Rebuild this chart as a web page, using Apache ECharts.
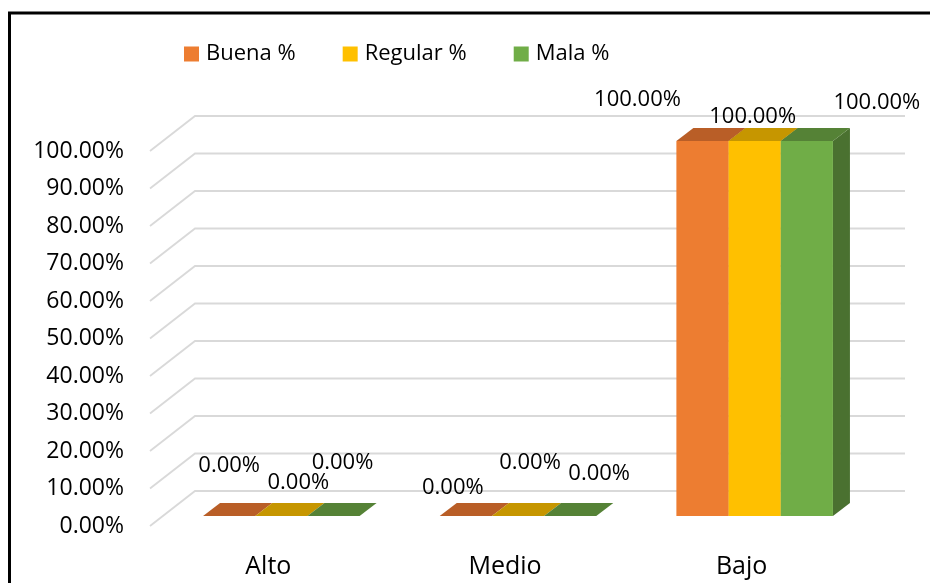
<!DOCTYPE html>
<html>
<head>
<meta charset="utf-8">
<script src="https://cdn.jsdelivr.net/npm/echarts@6/dist/echarts.min.js"></script>
<style>
html,body{margin:0;padding:0;background:#fff;}
#chart{width:930px;height:583px;}
</style>
</head>
<body>
<div id="chart"></div>
<script>
// ---- data ----
const categories = ['Alto', 'Medio', 'Bajo'];
const seriesNames = ['Buena %', 'Regular %', 'Mala %'];
const buena = [0, 0, 100];
const regular = [0, 0, 100];
const mala = [0, 0, 100];
const yTicks = [0, 10, 20, 30, 40, 50, 60, 70, 80, 90, 100];

// ---- styles / layout ----
const FONT = '"Open Sans", "Noto Sans", sans-serif';
const frontColors = ['#ED7D31', '#FFC000', '#70AD47'];
const topColors = ['#B95E27', '#C69600', '#558236'];
const sideColors = ['#B35A24', '#BF9000', '#4A7130'];
const WALL_DEPTH = [45, -35];   // px offset from front plane to back wall
const BAR_SHIFT = [13, -10];    // front face of bars behind the front plane
const BAR_DEPTH = [17, -13];    // depth of each bar prism
const BAR_FRAC = 0.2205;        // bar width as fraction of category band
// label offsets (px) from the top-centre of each bar front face, per series / category
const labelOffsets = [
  [[0, -50], [-13, -28], [-65, -41]],
  [[17, -33], [12, -53], [-2, -24]],
  [[9, -53], [29, -42], [70, -38]]
];

const allValues = [buena, regular, mala];
const chart = echarts.init(document.getElementById('chart'));

function barRenderer(s) {
  return function (params, api) {
    const i = api.value(0);
    const v = api.value(1);
    const top = api.coord([i, v]);
    const base = api.coord([i, 0]);
    const band = api.size([1, 0])[0];
    const w = band * BAR_FRAC;
    const cx = top[0] + (s - 1) * w + BAR_SHIFT[0];
    const x0 = cx - w / 2, x1 = cx + w / 2;
    const yt = top[1] + BAR_SHIFT[1];
    const yb = base[1] + BAR_SHIFT[1];
    const dx = BAR_DEPTH[0], dy = BAR_DEPTH[1];
    const off = labelOffsets[s][i];
    return {
      type: 'group',
      children: [
        {
          type: 'polygon',
          shape: { points: [[x1, yt], [x1 + dx, yt + dy], [x1 + dx, yb + dy], [x1, yb]] },
          style: { fill: sideColors[s] }
        },
        {
          type: 'rect',
          shape: { x: x0, y: yt, width: w, height: Math.max(yb - yt, 0) },
          style: { fill: frontColors[s] }
        },
        {
          type: 'polygon',
          shape: { points: [[x0, yt], [x0 + dx, yt + dy], [x1 + dx, yt + dy], [x1, yt]] },
          style: { fill: topColors[s] }
        },
        {
          type: 'text',
          z2: 100,
          style: {
            text: v.toFixed(2) + '%',
            x: cx + off[0],
            y: yt + off[1],
            align: 'center',
            verticalAlign: 'middle',
            font: '22px ' + FONT,
            fill: '#000'
          }
        }
      ]
    };
  };
}

const barSeries = seriesNames.map(function (name, s) {
  return {
    name: name,
    type: 'custom',
    renderItem: barRenderer(s),
    encode: { x: 0, y: 1 },
    itemStyle: { color: frontColors[s] },
    data: allValues[s].map(function (v, i) { return [i, v]; }),
    z: 3 + s,
    silent: true
  };
});

const gridSeries = {
  name: 'grid',
  type: 'custom',
  silent: true,
  z: 1,
  encode: { x: 0, y: 1 },
  renderItem: function (params, api) {
    const t = api.value(1);
    const p = api.coord([0, t]);
    const cs = params.coordSys;
    const x0 = cs.x, w = cs.width;
    return {
      type: 'polyline',
      shape: { points: [[x0, p[1]], [x0 + WALL_DEPTH[0], p[1] + WALL_DEPTH[1]], [x0 + w + WALL_DEPTH[0], p[1] + WALL_DEPTH[1]]] },
      style: { stroke: '#D9D9D9', lineWidth: 1.8, fill: null }
    };
  },
  data: yTicks.map(function (t) { return [0, t]; })
};

chart.setOption({
  animation: false,
  backgroundColor: '#fff',
  graphic: [{
    type: 'rect',
    shape: { x: 9.5, y: 13, width: 1000, height: 700 },
    style: { fill: null, stroke: '#000', lineWidth: 3 },
    z: 0
  }],
  legend: {
    data: seriesNames,
    left: 184,
    top: 43,
    padding: 0,
    icon: 'rect',
    itemWidth: 15,
    itemHeight: 15,
    itemGap: 47,
    textStyle: { fontFamily: FONT, fontSize: 22, color: '#000', padding: [0, 0, 0, 2] }
  },
  grid: { left: 150, right: 70, top: 151, bottom: 57, containLabel: false },
  xAxis: {
    type: 'category',
    data: categories,
    axisLine: { show: false },
    axisTick: { show: false },
    splitLine: { show: false },
    axisLabel: { fontFamily: FONT, fontSize: 25, color: '#000', margin: 28 }
  },
  yAxis: {
    type: 'value',
    min: 0,
    max: 100,
    interval: 10,
    axisLine: { show: false },
    axisTick: { show: false },
    splitLine: { show: false },
    axisLabel: {
      fontFamily: FONT, fontSize: 23, color: '#000', margin: 26,
      padding: [12, 0, 0, 0],
      formatter: function (v) { return v.toFixed(2) + '%'; }
    }
  },
  series: [gridSeries].concat(barSeries)
});
</script>
</body>
</html>
